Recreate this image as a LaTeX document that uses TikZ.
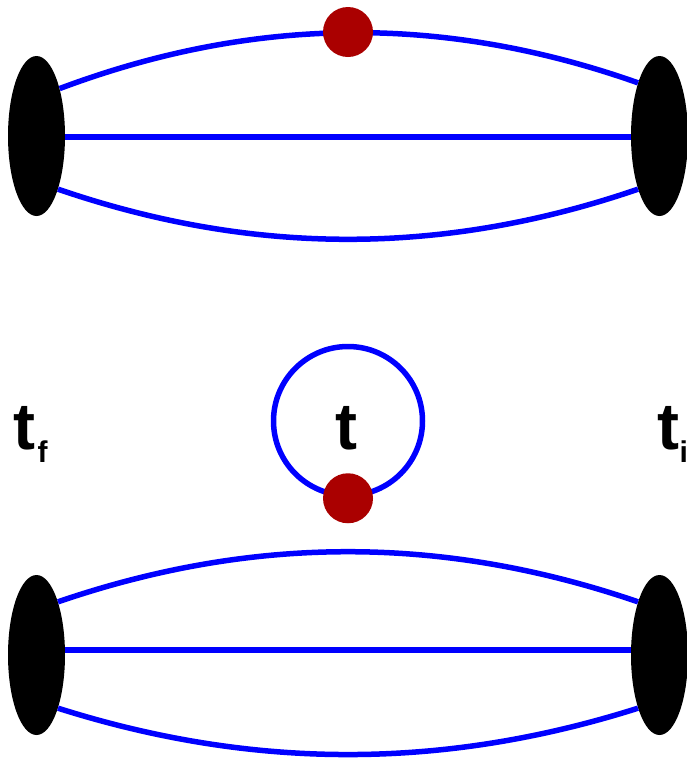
\documentclass[tikz,border=0pt]{standalone}
\usepackage{fontspec}
\setmainfont{Liberation Sans}
\usetikzlibrary{shapes.geometric}
\definecolor{dotred}{HTML}{AA0000}
\definecolor{wireblue}{HTML}{0000FF}
\tikzset{
  blob/.style={ellipse, fill=black, inner sep=0pt, minimum width=57pt, minimum height=160pt},
  wire/.style={draw=wireblue, line width=5.5pt},
  vertex/.style={circle, fill=dotred, inner sep=0pt, minimum size=50pt},
  loopc/.style={circle, draw=wireblue, line width=5.5pt, inner sep=0pt, minimum size=149pt},
  lab/.style={inner sep=0pt, anchor=base west, font=\bfseries\fontsize{66}{66}\selectfont},
  sub/.style={inner sep=0pt, anchor=base west, yshift=-13pt, font=\bfseries\fontsize{30}{30}\selectfont}
}
\begin{document}
\begin{tikzpicture}[x=1pt, y=-1pt]
\useasboundingbox (0,0) rectangle (687,761);
% top diagram
\node[blob] (L1) at (36.5,136) {};
\node[blob] (R1) at (659.5,136) {};
\draw[wire] ([yshift=-1pt]L1.east) -- ([yshift=-1pt]R1.west);
\draw[wire] (L1.64) .. controls (253,16) and (443,14) .. (R1.112);
\draw[wire] (L1.-68) .. controls (253,256) and (443,256) .. (R1.-112);
\node[vertex] (V1) at (348,32) {};
% bottom diagram
\node[blob] (L2) at (36.5,655) {};
\node[blob] (R2) at (659.5,655) {};
\draw[wire] ([yshift=5pt]L2.east) -- ([yshift=5pt]R2.west);
\draw[wire] (L2.68) .. controls (253,535) and (443,535) .. (R2.112);
\draw[wire] (L2.-68) .. controls (253,770) and (443,770) .. (R2.-112);
% loop
\node[loopc] (C) at (348,421) {};
\node[vertex] (V2) at (C.south) {};
% labels
\node[lab] (tc) at (335,449) {t};
\node[lab] (tf) at (13,449) {t};
\node[sub, xshift=2pt] (f) at (tf.base east) {f};
\node[lab] (ti) at (657,449) {t};
\node[sub] (i) at (ti.base east) {i};
\end{tikzpicture}
\end{document}
